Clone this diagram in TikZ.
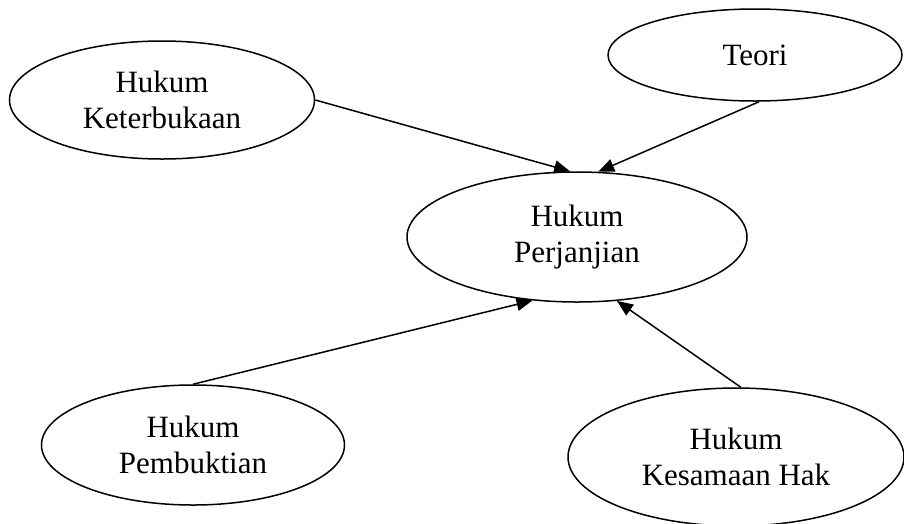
\documentclass[tikz,border=0pt]{standalone}
\usepackage{fontspec}
\setmainfont{Liberation Serif}
\usetikzlibrary{arrows.meta}
\usetikzlibrary{shapes.geometric}

\begin{document}
\begin{tikzpicture}[x=1pt,y=-1pt,line width=1.5pt,
  konsep/.style={ellipse,draw,inner sep=0pt,align=center,
    font=\fontsize{31}{36}\selectfont},
  panah/.style={-{Triangle[length=16pt,width=13pt]}}]

  % size of the picture
  \useasboundingbox (0,0) rectangle (904,523);

  % the ellipses
  \node[konsep,minimum width=305pt,minimum height=118pt] (keterbukaan) at (162,100)
    {Hukum\\Keterbukaan};
  \node[konsep,minimum width=294pt,minimum height=92pt] (teori) at (755,55)
    {Teori};
  \node[konsep,minimum width=340pt,minimum height=130pt] (perjanjian) at (577,237)
    {Hukum\\Perjanjian};
  \node[konsep,minimum width=303pt,minimum height=120pt] (pembuktian) at (193,445)
    {Hukum\\Pembuktian};
  \node[konsep,minimum width=336pt,minimum height=138pt] (kesamaan) at (736,457)
    {Hukum\\Kesamaan Hak};

  % arrows into the middle ellipse
  \draw[panah] (keterbukaan.east) -- (perjanjian.96);
  \draw[panah] (teori.-85) -- (perjanjian.72);
  \draw[panah] (pembuktian.north) -- (perjanjian.235);
  \draw[panah] (kesamaan.86) -- (perjanjian.-58);

\end{tikzpicture}
\end{document}
